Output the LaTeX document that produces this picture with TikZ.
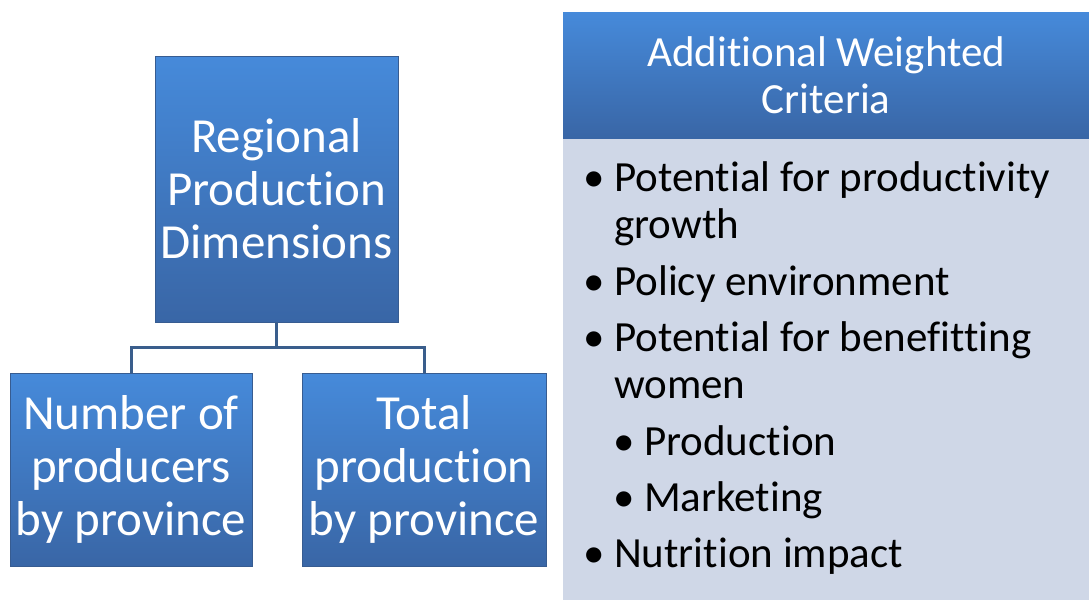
\documentclass[tikz,border=0pt]{standalone}
\usepackage{fontspec}
\setmainfont{Carlito}[Ligatures={NoCommon,NoContextual,NoRequired}]
\definecolor{boxtop}{RGB}{70,138,218}
\definecolor{boxbot}{RGB}{57,102,166}
\definecolor{boxedge}{RGB}{55,92,145}
\definecolor{connc}{RGB}{58,94,140}
\definecolor{panelc}{RGB}{207,215,231}
\tikzset{
  bluebox/.style={draw=boxedge, line width=0.8pt, top color=boxtop, bottom color=boxbot,
    text=white, align=center, inner sep=0pt, font=\fontsize{49}{53}\selectfont},
  hdrbox/.style={top color=boxtop, bottom color=boxbot, draw=none,
    text=white, align=center, inner sep=0pt, font=\fontsize{43}{47}\selectfont},
  conn/.style={draw=connc, line width=3pt},
  itemtxt/.style={anchor=base west, inner sep=0pt, text=black, font=\fontsize{43}{47}\selectfont},
}
\begin{document}
\begin{tikzpicture}[x=1pt,y=-1pt]
\useasboundingbox (0,0) rectangle (1089,600);
% left tree
\node[bluebox, minimum width=243pt, minimum height=266pt] (top) at (276.5,189) {Regional\\Production\\Dimensions};
\node[bluebox, minimum width=242pt, minimum height=193pt] (left) at (131,469.5) {Number of\\producers\\by province};
\node[bluebox, minimum width=244pt, minimum height=193pt] (right) at (424,469.5) {Total\\production\\by province};
\coordinate (jn) at (276.5,347);
\draw[conn] (top.south) -- (jn);
\draw[conn] (left.north) |- (jn) -| (right.north);
% right panel
\node[fill=panelc, draw=none, minimum width=526pt, minimum height=462pt, inner sep=0pt, anchor=north west] (body) at (563,138) {};
\node[hdrbox, minimum width=526pt, minimum height=126pt, anchor=north west] (hdr) at (563,12) {Additional Weighted\\Criteria};
% items
\node[itemtxt] (b1) at (583,191) {•};
\node[itemtxt] (t1) at (614,191) {Potential for productivity};
\node[itemtxt] (t1b) at (614,238) {growth};
\node[itemtxt] (b2) at (583,295) {•};
\node[itemtxt] (t2) at (614,295) {Policy environment};
\node[itemtxt] (b3) at (583,351) {•};
\node[itemtxt] (t3) at (614,351) {Potential for benefitting};
\node[itemtxt] (t3b) at (614,398) {women};
\node[itemtxt] (b4) at (613,455) {•};
\node[itemtxt] (t4) at (644,455) {Production};
\node[itemtxt] (b5) at (613,511) {•};
\node[itemtxt] (t5) at (644,511) {Marketing};
\node[itemtxt] (b6) at (583,567) {•};
\node[itemtxt] (t6) at (614,567) {Nutrition impact};
\end{tikzpicture}
\end{document}
